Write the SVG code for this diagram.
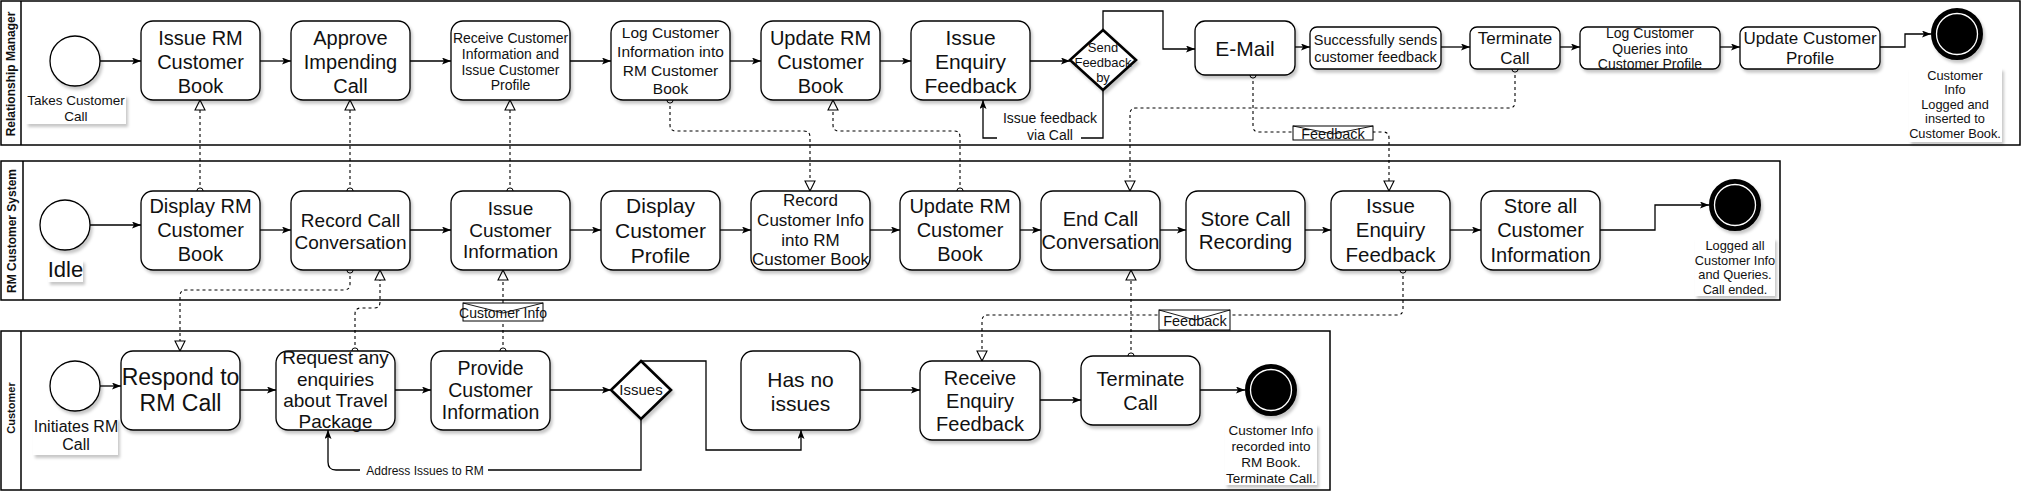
<svg xmlns="http://www.w3.org/2000/svg" width="2032" height="502" viewBox="0 0 2032 502">
<defs>
<filter id="sh" x="-10%" y="-10%" width="130%" height="140%">
<feDropShadow dx="2" dy="3" stdDeviation="1.5" flood-color="#000" flood-opacity="0.22"/>
</filter>
<marker id="arr" markerUnits="userSpaceOnUse" viewBox="0 0 9 7" refX="9" refY="3.5" markerWidth="9" markerHeight="7" orient="auto">
<path d="M0,0 L9,3.5 L0,7 L2,3.5 z" fill="#000"/>
</marker>
<marker id="tri" markerUnits="userSpaceOnUse" viewBox="0 0 12 12" refX="11" refY="6" markerWidth="12" markerHeight="12" orient="auto">
<path d="M1,1 L11,6 L1,11 z" fill="#fff" stroke="#000" stroke-width="1.1"/>
</marker>
<marker id="circ" markerUnits="userSpaceOnUse" viewBox="0 0 8 8" refX="4" refY="4" markerWidth="8" markerHeight="8" orient="auto">
<circle cx="4" cy="4" r="3.1" fill="#fff" stroke="#000" stroke-width="1"/>
</marker>
</defs>
<style>
.lane{fill:none;stroke:#000;stroke-width:1.5}
.task{fill:#fff;stroke:#000;stroke-width:1.3;filter:url(#sh)}
.gw{fill:#fff;stroke:#000;stroke-width:2.6;filter:url(#sh)}
.start{fill:#fff;stroke:#000;stroke-width:1.3;filter:url(#sh)}
.end{fill:#000;stroke:#000;stroke-width:4;filter:url(#sh)}
.endin{fill:none;stroke:#fff;stroke-width:1.3}
.lbl{fill:#fff;stroke:none;filter:url(#sh)}
.bg{fill:#fff;stroke:none}
.env{fill:#fff;stroke:#000;stroke-width:1}
.envl{fill:none;stroke:#000;stroke-width:0.9}
text{font-family:"Liberation Sans",Arial,sans-serif;fill:#111;text-anchor:middle}
.hd{font-weight:bold;font-size:12px}
.seq{fill:none;stroke:#000;stroke-width:1.3;marker-end:url(#arr)}
.msg{fill:none;stroke:#000;stroke-width:1.1;stroke-dasharray:3 3;marker-start:url(#circ);marker-end:url(#tri)}
</style>

<!-- Lanes -->
<g id="lane-rm">
<rect class="lane" x="1" y="1" width="2019" height="144"/>
<line class="lane" x1="21" y1="1" x2="21" y2="145"/>
<text class="hd" transform="translate(15,74) rotate(-90)">Relationship Manager</text>
</g>
<g id="lane-sys">
<rect class="lane" x="1" y="161" width="1779" height="139"/>
<line class="lane" x1="23" y1="161" x2="23" y2="300"/>
<text class="hd" transform="translate(16,231) rotate(-90)">RM Customer System</text>
</g>
<g id="lane-cust">
<rect class="lane" x="1" y="331" width="1329" height="159"/>
<line class="lane" x1="21" y1="331" x2="21" y2="490"/>
<text class="hd" style="font-size:11px" transform="translate(15,408) rotate(-90)">Customer</text>
</g>

<!-- Connectors -->
<g id="connectors">
<!-- lane 1 sequence -->
<path class="seq" d="M100,61 H141"/>
<path class="seq" d="M260,61 H291"/>
<path class="seq" d="M410,61 H451"/>
<path class="seq" d="M570,61 H611"/>
<path class="seq" d="M730,61 H761"/>
<path class="seq" d="M880,61 H911"/>
<path class="seq" d="M1030,61 H1070"/>
<path class="seq" d="M1103,30 V11 H1163 V49 H1195"/>
<path class="seq" d="M1103,90 V138 H983 V100"/>
<path class="seq" d="M1295,47 H1310"/>
<path class="seq" d="M1441,47 H1470"/>
<path class="seq" d="M1560,47 H1580"/>
<path class="seq" d="M1720,47 H1740"/>
<path class="seq" d="M1880,47 H1905 V34 H1931"/>
<!-- lane 2 sequence -->
<path class="seq" d="M90,225 H141"/>
<path class="seq" d="M260,230 H291"/>
<path class="seq" d="M410,230 H451"/>
<path class="seq" d="M570,230 H601"/>
<path class="seq" d="M720,230 H751"/>
<path class="seq" d="M870,230 H900"/>
<path class="seq" d="M1020,230 H1041"/>
<path class="seq" d="M1160,230 H1186"/>
<path class="seq" d="M1305,230 H1331"/>
<path class="seq" d="M1450,230 H1481"/>
<path class="seq" d="M1600,230 H1655 V205 H1709"/>
<!-- lane 3 sequence -->
<path class="seq" d="M100,386 H121"/>
<path class="seq" d="M240,390 H276"/>
<path class="seq" d="M395,390 H431"/>
<path class="seq" d="M550,390 H611"/>
<path class="seq" d="M641,361 H706 V450 H801 V430"/>
<path class="seq" d="M641,419 V470 H336 Q328,470 328,462 V430"/>
<path class="seq" d="M860,390 H920"/>
<path class="seq" d="M1040,400 H1081"/>
<path class="seq" d="M1200,390 H1245"/>
<!-- message flows -->
<path class="msg" d="M200,191 V100"/>
<path class="msg" d="M350,191 V100"/>
<path class="msg" d="M510,191 V100"/>
<path class="msg" d="M670,100 V125 Q670,131 676,131 H804 Q810,131 810,137 V191"/>
<path class="msg" d="M960,191 V137 Q960,131 954,131 H839 Q833,131 833,125 V100"/>
<path class="msg" d="M1253,75 V126 Q1253,132 1259,132 H1383 Q1389,132 1389,138 V191"/>
<path class="msg" d="M1515,69 V102 Q1515,108 1509,108 H1136 Q1130,108 1130,114 V191"/>
<path class="msg" d="M350,270 V284 Q350,290 344,290 H186 Q180,290 180,296 V351"/>
<path class="msg" d="M355,351 V314 Q355,308 361,308 H374 Q380,308 380,302 V270"/>
<path class="msg" d="M503,351 V270"/>
<path class="msg" d="M1403,270 V309 Q1403,315 1397,315 H988 Q982,315 982,321 V361"/>
<path class="msg" d="M1131,356 V270"/>
<!-- connector labels -->
<rect class="bg" x="997" y="111" width="84" height="32"/>
<text font-size="14" x="1050" y="123">Issue feedback</text>
<text font-size="14" x="1050" y="140">via Call</text>
<rect class="bg" x="360" y="462" width="128" height="16"/>
<text font-size="12" x="425" y="475">Address Issues to RM</text>
<g id="msg-feedback-1">
<rect class="env" x="1293" y="126" width="80" height="14"/>
<path class="envl" d="M1293,126 L1333,134 L1373,126"/>
<text font-size="14.5" x="1333" y="138.5">Feedback</text>
</g>
<g id="msg-feedback-2">
<rect class="env" x="1159" y="310" width="71" height="20"/>
<path class="envl" d="M1159,310 L1195,320 L1230,310"/>
<text font-size="14.5" x="1195" y="326">Feedback</text>
</g>
<g id="msg-custinfo">
<rect class="env" x="463" y="303" width="80" height="18"/>
<path class="envl" d="M463,303 L503,313 L543,303"/>
<text font-size="14" x="503" y="318">Customer Info</text>
</g>
</g>

<!-- Lane 1 nodes -->
<g id="rm-start">
<circle class="start" cx="75" cy="61" r="25"/>
<rect class="lbl" x="26" y="95" width="100" height="29"/>
<text font-size="13.5" x="76" y="105">Takes Customer</text>
<text font-size="13.5" x="76" y="121">Call</text>
</g>
<g id="rm-issue-book">
<rect class="task" x="141" y="21" width="119" height="79" rx="12"/>
<text font-size="20" x="200.5" y="45">Issue RM</text>
<text font-size="20" x="200.5" y="69">Customer</text>
<text font-size="20" x="200.5" y="93">Book</text>
</g>
<g id="rm-approve">
<rect class="task" x="291" y="21" width="119" height="79" rx="12"/>
<text font-size="20" x="350.5" y="45">Approve</text>
<text font-size="20" x="350.5" y="69">Impending</text>
<text font-size="20" x="350.5" y="93">Call</text>
</g>
<g id="rm-receive">
<rect class="task" x="451" y="21" width="119" height="79" rx="12"/>
<text font-size="14" x="510.5" y="43">Receive Customer</text>
<text font-size="14" x="510.5" y="59">Information and</text>
<text font-size="14" x="510.5" y="74.5">Issue Customer</text>
<text font-size="14" x="510.5" y="90">Profile</text>
</g>
<g id="rm-log">
<rect class="task" x="611" y="21" width="119" height="79" rx="12"/>
<text font-size="15.5" x="670.5" y="38">Log Customer</text>
<text font-size="15.5" x="670.5" y="57">Information into</text>
<text font-size="15.5" x="670.5" y="76">RM Customer</text>
<text font-size="15.5" x="670.5" y="94">Book</text>
</g>
<g id="rm-update-book">
<rect class="task" x="761" y="21" width="119" height="79" rx="12"/>
<text font-size="20" x="820.5" y="45">Update RM</text>
<text font-size="20" x="820.5" y="69">Customer</text>
<text font-size="20" x="820.5" y="93">Book</text>
</g>
<g id="rm-issue-feedback">
<rect class="task" x="911" y="21" width="119" height="79" rx="12"/>
<text font-size="21" x="970.5" y="45">Issue</text>
<text font-size="21" x="970.5" y="69">Enquiry</text>
<text font-size="21" x="970.5" y="93">Feedback</text>
</g>
<g id="rm-gateway">
<polygon class="gw" points="1103,30 1136,60 1103,90 1070,60"/>
<text font-size="13" x="1103" y="51.5">Send</text>
<text font-size="13" x="1103" y="66.5">Feedback</text>
<text font-size="13" x="1103" y="81.5">by</text>
</g>
<g id="rm-email">
<rect class="task" x="1195" y="21" width="100" height="54" rx="10"/>
<text font-size="21" x="1245" y="56">E-Mail</text>
</g>
<g id="rm-success">
<rect class="task" x="1310" y="27" width="131" height="42" rx="7"/>
<text font-size="14.5" x="1375.5" y="45">Successfully sends</text>
<text font-size="14.5" x="1375.5" y="62">customer feedback</text>
</g>
<g id="rm-terminate">
<rect class="task" x="1470" y="27" width="90" height="42" rx="7"/>
<text font-size="17" x="1515" y="44">Terminate</text>
<text font-size="17" x="1515" y="64">Call</text>
</g>
<g id="rm-log-queries">
<rect class="task" x="1580" y="27" width="140" height="42" rx="7"/>
<text font-size="14" x="1650" y="38">Log Customer</text>
<text font-size="14" x="1650" y="53.5">Queries into</text>
<text font-size="14" x="1650" y="69">Customer Profile</text>
</g>
<g id="rm-update-profile">
<rect class="task" x="1740" y="27" width="140" height="42" rx="7"/>
<text font-size="17" x="1810" y="44">Update Customer</text>
<text font-size="17" x="1810" y="64">Profile</text>
</g>
<g id="rm-end">
<circle class="end" cx="1957" cy="34" r="24"/>
<circle class="endin" cx="1957" cy="34" r="20.5"/>
<rect class="lbl" x="1909" y="68" width="93" height="74"/>
<text font-size="12.8" x="1955" y="79.5">Customer</text>
<text font-size="12.8" x="1955" y="94">Info</text>
<text font-size="12.8" x="1955" y="108.5">Logged and</text>
<text font-size="12.8" x="1955" y="123">inserted to</text>
<text font-size="12.8" x="1955" y="137.5">Customer Book.</text>
</g>

<!-- Lane 2 nodes -->
<g id="sys-start">
<circle class="start" cx="65" cy="225" r="25"/>
<rect class="lbl" x="48" y="260" width="35" height="22"/>
<text font-size="22" x="65.5" y="277">Idle</text>
</g>
<g id="sys-display-book">
<rect class="task" x="141" y="191" width="119" height="79" rx="12"/>
<text font-size="20" x="200.5" y="213">Display RM</text>
<text font-size="20" x="200.5" y="237">Customer</text>
<text font-size="20" x="200.5" y="261">Book</text>
</g>
<g id="sys-record-call">
<rect class="task" x="291" y="191" width="119" height="79" rx="12"/>
<text font-size="19" x="350.5" y="227">Record Call</text>
<text font-size="19" x="350.5" y="249">Conversation</text>
</g>
<g id="sys-issue-info">
<rect class="task" x="451" y="191" width="119" height="79" rx="12"/>
<text font-size="19" x="510.5" y="215">Issue</text>
<text font-size="19" x="510.5" y="237">Customer</text>
<text font-size="19" x="510.5" y="258">Information</text>
</g>
<g id="sys-display-profile">
<rect class="task" x="601" y="191" width="119" height="79" rx="12"/>
<text font-size="21" x="660.5" y="213">Display</text>
<text font-size="21" x="660.5" y="238">Customer</text>
<text font-size="21" x="660.5" y="263">Profile</text>
</g>
<g id="sys-record-info">
<rect class="task" x="751" y="191" width="119" height="79" rx="12"/>
<text font-size="17" x="810.5" y="206">Record</text>
<text font-size="17" x="810.5" y="226">Customer Info</text>
<text font-size="17" x="810.5" y="246">into RM</text>
<text font-size="17" x="810.5" y="265">Customer Book</text>
</g>
<g id="sys-update-book">
<rect class="task" x="900" y="191" width="120" height="79" rx="12"/>
<text font-size="20" x="960" y="213">Update RM</text>
<text font-size="20" x="960" y="237">Customer</text>
<text font-size="20" x="960" y="261">Book</text>
</g>
<g id="sys-end-call">
<rect class="task" x="1041" y="191" width="119" height="79" rx="12"/>
<text font-size="20" x="1100.5" y="226">End Call</text>
<text font-size="20" x="1100.5" y="249">Conversation</text>
</g>
<g id="sys-store-recording">
<rect class="task" x="1186" y="191" width="119" height="79" rx="12"/>
<text font-size="20.5" x="1245.5" y="226">Store Call</text>
<text font-size="20.5" x="1245.5" y="249">Recording</text>
</g>
<g id="sys-issue-feedback">
<rect class="task" x="1331" y="191" width="119" height="79" rx="12"/>
<text font-size="20.5" x="1390.5" y="213">Issue</text>
<text font-size="20.5" x="1390.5" y="237">Enquiry</text>
<text font-size="20.5" x="1390.5" y="262">Feedback</text>
</g>
<g id="sys-store-all">
<rect class="task" x="1481" y="191" width="119" height="79" rx="12"/>
<text font-size="20" x="1540.5" y="213">Store all</text>
<text font-size="20" x="1540.5" y="237">Customer</text>
<text font-size="20" x="1540.5" y="262">Information</text>
</g>
<g id="sys-end">
<circle class="end" cx="1735" cy="205" r="24"/>
<circle class="endin" cx="1735" cy="205" r="20.5"/>
<rect class="lbl" x="1695" y="238" width="80" height="58"/>
<text font-size="12.8" x="1735" y="250">Logged all</text>
<text font-size="12.8" x="1735" y="264.5">Customer Info</text>
<text font-size="12.8" x="1735" y="279">and Queries.</text>
<text font-size="12.8" x="1735" y="293.5">Call ended.</text>
</g>

<!-- Lane 3 nodes -->
<g id="cust-start">
<circle class="start" cx="75" cy="386" r="25"/>
<rect class="lbl" x="33" y="418" width="85" height="37"/>
<text font-size="16" x="76" y="432">Initiates RM</text>
<text font-size="16" x="76" y="450">Call</text>
</g>
<g id="cust-respond">
<rect class="task" x="121" y="351" width="119" height="79" rx="12"/>
<text font-size="23" x="180.5" y="385">Respond to</text>
<text font-size="23" x="180.5" y="411">RM Call</text>
</g>
<g id="cust-request">
<rect class="task" x="276" y="351" width="119" height="79" rx="12"/>
<text font-size="19" x="335.5" y="364">Request any</text>
<text font-size="19" x="335.5" y="386">enquiries</text>
<text font-size="19" x="335.5" y="407">about Travel</text>
<text font-size="19" x="335.5" y="428">Package</text>
</g>
<g id="cust-provide">
<rect class="task" x="431" y="351" width="119" height="79" rx="12"/>
<text font-size="19.5" x="490.5" y="375">Provide</text>
<text font-size="19.5" x="490.5" y="397">Customer</text>
<text font-size="19.5" x="490.5" y="419">Information</text>
</g>
<g id="cust-gateway">
<polygon class="gw" points="641,361 671,390 641,419 611,390"/>
<text font-size="15" x="641" y="395">Issues</text>
</g>
<g id="cust-no-issues">
<rect class="task" x="741" y="351" width="119" height="79" rx="12"/>
<text font-size="21" x="800.5" y="387">Has no</text>
<text font-size="21" x="800.5" y="411">issues</text>
</g>
<g id="cust-receive">
<rect class="task" x="920" y="361" width="120" height="79" rx="12"/>
<text font-size="20" x="980" y="385">Receive</text>
<text font-size="20" x="980" y="408">Enquiry</text>
<text font-size="20" x="980" y="431">Feedback</text>
</g>
<g id="cust-terminate">
<rect class="task" x="1081" y="356" width="119" height="69" rx="12"/>
<text font-size="20" x="1140.5" y="386">Terminate</text>
<text font-size="20" x="1140.5" y="410">Call</text>
</g>
<g id="cust-end">
<circle class="end" cx="1271" cy="390" r="24"/>
<circle class="endin" cx="1271" cy="390" r="20.5"/>
<rect class="lbl" x="1225" y="424" width="92" height="61"/>
<text font-size="13.5" x="1271" y="435">Customer Info</text>
<text font-size="13.5" x="1271" y="451">recorded into</text>
<text font-size="13.5" x="1271" y="467">RM Book.</text>
<text font-size="13.5" x="1271" y="483">Terminate Call.</text>
</g>
</svg>
